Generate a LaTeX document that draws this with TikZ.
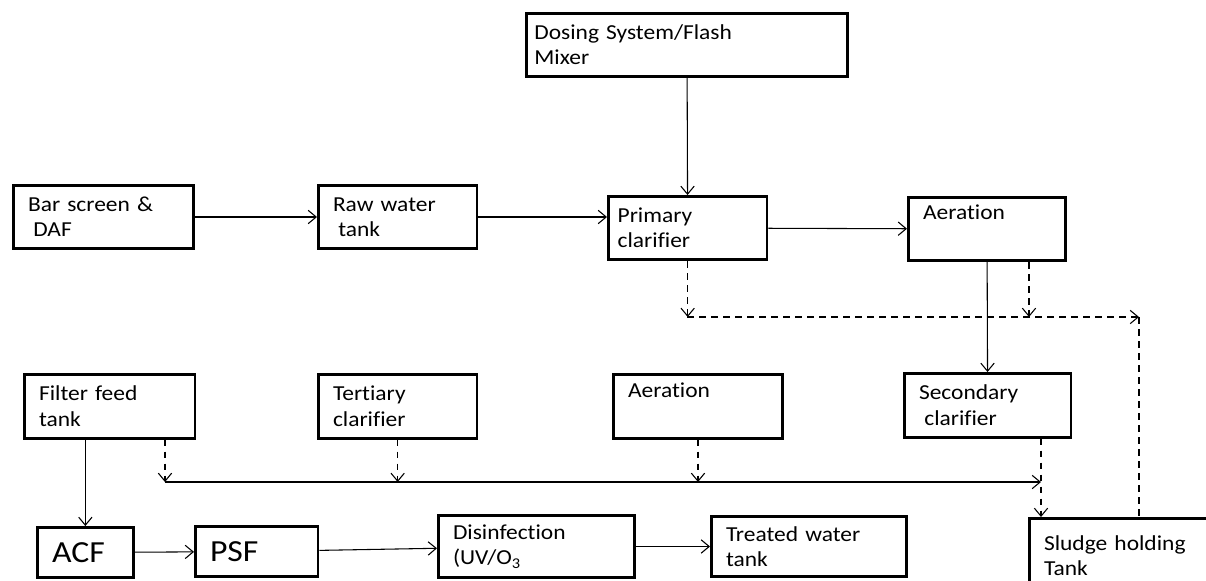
\documentclass[tikz,border=0pt]{standalone}
\usepackage{fontspec}
\setmainfont{Carlito}[FakeStretch=1.1,Ligatures=NoCommon]
\usetikzlibrary{arrows.meta}
\tikzset{
  unit/.style={draw, line width=2pt, anchor=north west, align=left, inner xsep=11pt, inner ysep=0pt, font=\fontsize{16}{19}\selectfont},
  bigunit/.style={unit, font=\fontsize{23}{27}\selectfont},
  flowline/.style={line width=0.8pt, -{Straight Barb[length=6pt,width=10pt]}},
  drainline/.style={flowline, dash pattern=on 5pt off 4pt},
}
\begin{document}
\begin{tikzpicture}[x=0.75pt,y=-0.75pt]
\useasboundingbox (0,0) rectangle (1206,581);
\clip (0,0) rectangle (1206,581);

\node[unit,inner xsep=6pt,text width=229pt,minimum height=47.5pt] (dose) at (525,12) {Dosing System/Flash\\Mixer};
\node[unit,text width=113pt,minimum height=47.5pt] (bar) at (12,184) {Bar screen \&\\\hspace*{0.25em}DAF};
\node[unit,text width=97pt,minimum height=47.5pt] (raw) at (317,184) {Raw water\\\hspace*{0.25em}tank};
\node[unit,inner xsep=7pt,text width=105pt,minimum height=47.5pt] (prim) at (607,195) {Primary\\clarifier};
\node[unit,text width=96pt,minimum height=47.5pt] (aerA) at (907,196) {Aeration\\\strut};

\node[unit,text width=106pt,minimum height=48pt] (filt) at (23,373) {Filter feed\\tank};
\node[unit,text width=97pt,minimum height=48pt] (tert) at (317,373) {Tertiary\\clarifier};
\node[unit,text width=105pt,minimum height=48pt] (aerB) at (612,373) {Aeration\\\strut};
\node[unit,text width=103pt,minimum height=48pt] (sec) at (903,372) {Secondary\\\hspace*{0.25em}clarifier};

\node[bigunit,text width=50pt,minimum height=37.75pt] (acf) at (36,526) {ACF};
\node[bigunit,text width=70pt,minimum height=37.75pt] (psf) at (194,525) {PSF};
\node[unit,text width=125pt,minimum height=46.75pt] (dis) at (437,514) {Disinfection\\(UV/O\textsubscript{3}};
\node[unit,text width=124.5pt,minimum height=45.25pt] (treat) at (710,515) {Treated water\\tank};
\node[unit,text width=140pt,minimum height=56.5pt] (sludge) at (1028,517) {Sludge holding\\Tank};

\coordinate (j1) at (687,317);
\coordinate (j2) at (1139,317);
\coordinate (k1) at (165,482);
\coordinate (k2) at (1041,482);

\draw[flowline] (bar) -- (raw);
\draw[flowline] (raw.east) -- (raw.east -| prim.west);
\draw[flowline] (dose) -- (prim);
\draw[flowline] (prim) -- (aerA);
\draw[flowline] (aerA) -- (sec);
\draw[drainline] (prim.south) -- (prim.south |- j1);
\draw[drainline] ([xshift=-28.5pt]aerA.south east) -- ([xshift=-28.5pt]aerA.south east |- j2);
\draw[drainline] (j1) -- (j2);
\draw[drainline,-] (j2) -- (j2 |- sludge.north);

\draw[flowline] (filt.south -| acf.north) -- (acf.north);
\draw[drainline] (filt.south -| k1) -- (k1);
\draw[drainline] (tert.south) -- (tert.south |- k1);
\draw[drainline] (aerB.south) -- (aerB.south |- k1);
\draw[flowline] (k1) -- (k2);
\draw[drainline] (sec.south -| k2) -- (sludge.north -| k2);

\draw[flowline] (acf) -- (psf);
\draw[flowline] (psf) -- (dis);
\draw[flowline] (dis) -- (treat);
\end{tikzpicture}
\end{document}
